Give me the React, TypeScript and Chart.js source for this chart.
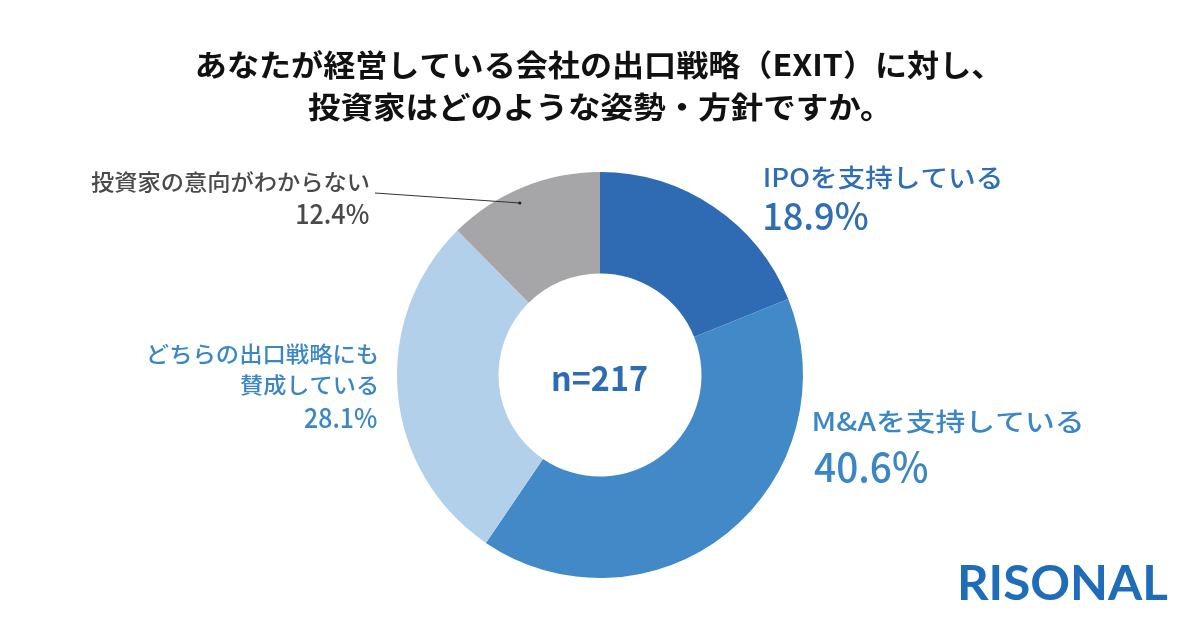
import { useEffect, useRef } from 'react';
import { Chart, registerables } from 'chart.js';

Chart.register(...registerables);

// Survey answers (clockwise from 12 o'clock)
const categories = [
  'IPOを支持している',
  'M&Aを支持している',
  'どちらの出口戦略にも賛成している',
  '投資家の意向がわからない',
];
const categoryLines = [
  ['IPOを支持している'],
  ['M&Aを支持している'],
  ['どちらの出口戦略にも', '賛成している'],
  ['投資家の意向がわからない'],
];
const shares = [18.9, 40.6, 28.1, 12.4];
const sampleLabel = 'n=217';
const titleLines = [
  'あなたが経営している会社の出口戦略（EXIT）に対し、',
  '投資家はどのような姿勢・方針ですか。',
];
const brandName = 'RISONAL';

// Styling
const sliceColors = ['#2E6BB3', '#428AC7', '#B3D0EA', '#A6A5A8'];
const labelColors = ['#2F6DB4', '#3B87C5', '#3B87C5', '#4A4A4A'];
const JP = '"Noto Sans CJK JP", "Noto Sans", sans-serif';

type Align = 'left' | 'right' | 'center';
interface LabelBox {
  align: Align;
  x: number;
  nameY: number[];
  nameSize: number;
  nameW: number[];
  pctY: number;
  pctSize: number;
  pctW: number;
}

// Placement of each category's callout text
const labelBoxes: LabelBox[] = [
  { align: 'left', x: 765, nameY: [177], nameSize: 25, nameW: [235], pctY: 216, pctSize: 38, pctW: 103 },
  { align: 'left', x: 814, nameY: [421], nameSize: 25, nameW: [267], pctY: 467, pctSize: 41, pctW: 114 },
  { align: 'right', x: 377, nameY: [354, 385], nameSize: 22, nameW: [228, 137], pctY: 418, pctSize: 27, pctW: 72 },
  { align: 'right', x: 369, nameY: [182], nameSize: 22, nameW: [278], pctY: 214, pctSize: 27, pctW: 72 },
];

// Draws text so that its ink spans a given width, anchored by ink edge/centre
function inkText(
  ctx: CanvasRenderingContext2D,
  text: string,
  x: number,
  yc: number,
  font: string,
  color: string,
  align: Align,
  width?: number
) {
  ctx.save();
  ctx.font = font;
  ctx.fillStyle = color;
  ctx.textAlign = 'left';
  ctx.textBaseline = 'alphabetic';
  const m = ctx.measureText(text);
  const l = m.actualBoundingBoxLeft;
  const r = m.actualBoundingBoxRight;
  const inkW = l + r;
  const s = width ? width / inkW : 1;
  const y0 = yc - (m.actualBoundingBoxDescent - m.actualBoundingBoxAscent) / 2;
  let ox: number;
  if (align === 'left') ox = x + l * s;
  else if (align === 'right') ox = x - r * s;
  else ox = x - (s * (r - l)) / 2;
  ctx.translate(ox, y0);
  ctx.scale(s, 1);
  ctx.fillText(text, 0, 0);
  ctx.restore();
}

const calloutPlugin = {
  id: 'callouts',
  afterDraw(chart: Chart) {
    const ctx = chart.ctx;
    const meta = chart.getDatasetMeta(0);

    // Title
    inkText(ctx, titleLines[0], 590, 64, `bold 30px ${JP}`, '#111111', 'center', 786);
    inkText(ctx, titleLines[1], 590, 107, `bold 30px ${JP}`, '#111111', 'center', 564);

    // Category callouts
    labelBoxes.forEach((b, i) => {
      const color = labelColors[i];
      categoryLines[i].forEach((line, k) => {
        inkText(ctx, line, b.x, b.nameY[k], `500 ${b.nameSize}px ${JP}`, color, b.align, b.nameW[k]);
      });
      const pct = `${shares[i].toFixed(1)}%`;
      inkText(ctx, pct, b.x, b.pctY, `500 ${b.pctSize}px ${JP}`, color, b.align, b.pctW);
    });

    // Leader line for the grey slice
    const arc: any = meta.data[3];
    if (arc) {
      const p = arc.getProps(['x', 'y', 'startAngle', 'endAngle', 'outerRadius'], true);
      const a = p.startAngle + (p.endAngle - p.startAngle) * 0.44;
      const rr = p.outerRadius * 0.935;
      const ex = p.x + Math.cos(a) * rr;
      const ey = p.y + Math.sin(a) * rr;
      ctx.save();
      ctx.strokeStyle = '#333333';
      ctx.lineWidth = 1;
      ctx.beginPath();
      ctx.moveTo(375, 193);
      ctx.lineTo(ex, ey);
      ctx.stroke();
      ctx.fillStyle = '#222222';
      ctx.beginPath();
      ctx.arc(ex, ey, 1.6, 0, Math.PI * 2);
      ctx.fill();
      ctx.restore();

      // Sample size in the hole
      inkText(ctx, sampleLabel, p.x, p.y + 3, `bold 34px ${JP}`, '#2E6BB3', 'center', 94);
    }

    // Brand mark
    inkText(ctx, brandName, 1064, 582, `bold 48px Lato, "Open Sans", sans-serif`, '#1F6DB8', 'center', 208);
  },
};

export default function App() {
  const ref = useRef<HTMLCanvasElement | null>(null);

  useEffect(() => {
    document.body.style.margin = '0';
    const canvas = ref.current;
    if (!canvas) return;
    const chart = new Chart(canvas, {
      type: 'doughnut',
      data: {
        labels: categories,
        datasets: [
          {
            data: shares,
            backgroundColor: sliceColors,
            borderWidth: 0,
          },
        ],
      },
      options: {
        responsive: false,
        maintainAspectRatio: false,
        animation: false,
        cutout: '50%',
        layout: { padding: { top: 172, bottom: 50, left: 0, right: 0 } },
        plugins: {
          legend: { display: false },
          tooltip: { enabled: false },
        },
      },
      plugins: [calloutPlugin],
    });
    return () => chart.destroy();
  }, []);

  return (
    <div style={{ position: 'absolute', left: 0, top: 0, width: 1200, height: 628, background: '#ffffff' }}>
      <canvas ref={ref} width={1200} height={628} style={{ display: 'block' }} />
    </div>
  );
}
